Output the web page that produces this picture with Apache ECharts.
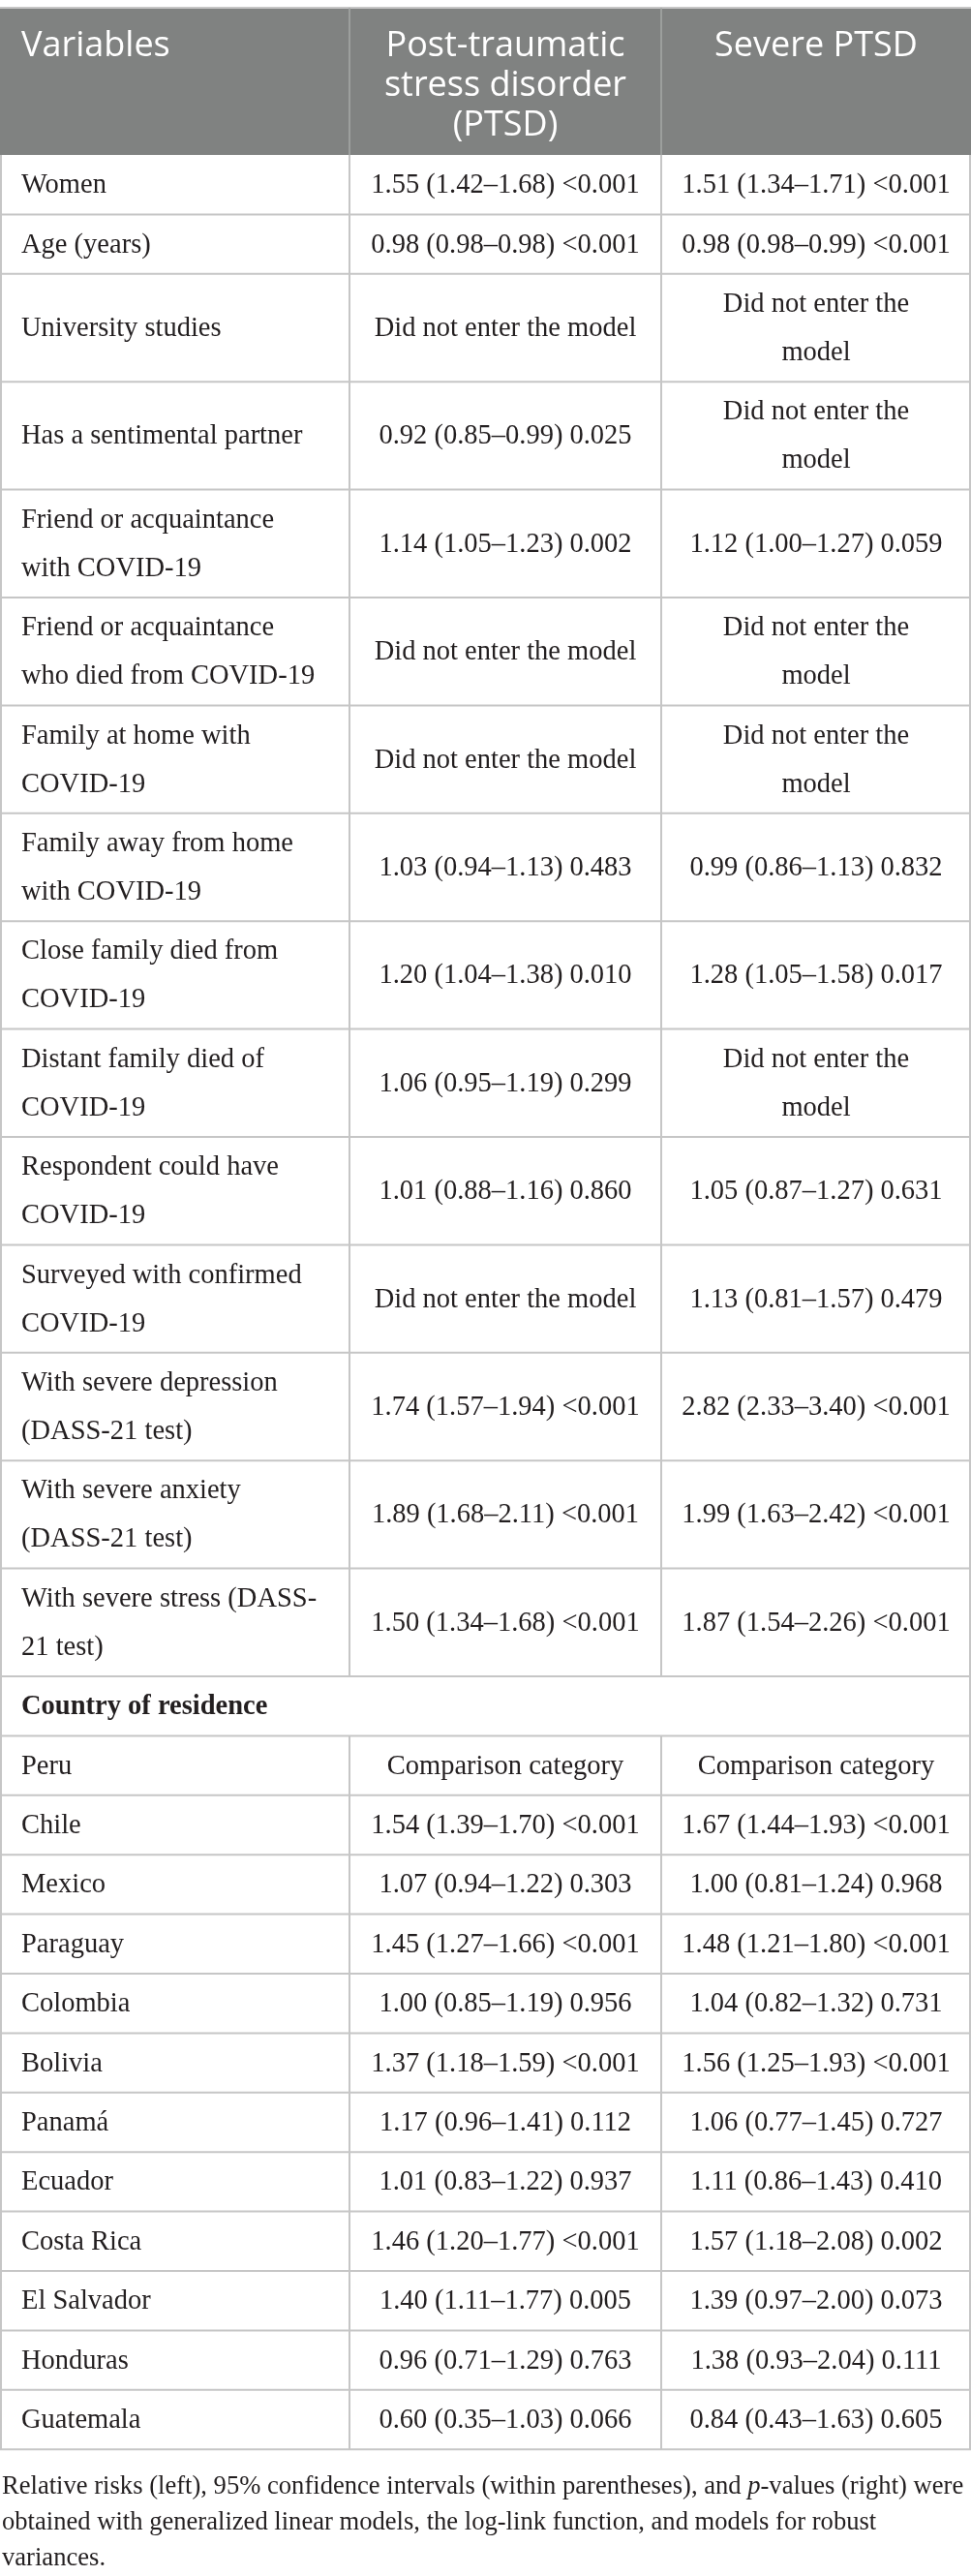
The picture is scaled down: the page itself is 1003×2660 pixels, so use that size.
<!DOCTYPE html>
<html>
<head>
<meta charset="utf-8">
<script src="https://cdn.jsdelivr.net/npm/echarts@6/dist/echarts.min.js"></script>
<style>
html, body { margin: 0; padding: 0; background: #fff; }
#main { width: 1003px; height: 2660px; }
</style>
</head>
<body>
<div id="main"></div>
<script>
// table content
const headers = ['Variables', 'Post-traumatic\nstress disorder\n(PTSD)', 'Severe PTSD'];

const predictors = [
    'Women',
    'Age (years)',
    'University studies',
    'Has a sentimental partner',
    'Friend or acquaintance\nwith COVID-19',
    'Friend or acquaintance\nwho died from COVID-19',
    'Family at home with\nCOVID-19',
    'Family away from home\nwith COVID-19',
    'Close family died from\nCOVID-19',
    'Distant family died of\nCOVID-19',
    'Respondent could have\nCOVID-19',
    'Surveyed with confirmed\nCOVID-19',
    'With severe depression\n(DASS-21 test)',
    'With severe anxiety\n(DASS-21 test)',
    'With severe stress (DASS-\n21 test)'
];
const predictorPtsd = [
    '1.55 (1.42–1.68) <0.001',
    '0.98 (0.98–0.98) <0.001',
    'Did not enter the model',
    '0.92 (0.85–0.99) 0.025',
    '1.14 (1.05–1.23) 0.002',
    'Did not enter the model',
    'Did not enter the model',
    '1.03 (0.94–1.13) 0.483',
    '1.20 (1.04–1.38) 0.010',
    '1.06 (0.95–1.19) 0.299',
    '1.01 (0.88–1.16) 0.860',
    'Did not enter the model',
    '1.74 (1.57–1.94) <0.001',
    '1.89 (1.68–2.11) <0.001',
    '1.50 (1.34–1.68) <0.001'
];
const predictorSevere = [
    '1.51 (1.34–1.71) <0.001',
    '0.98 (0.98–0.99) <0.001',
    'Did not enter the\nmodel',
    'Did not enter the\nmodel',
    '1.12 (1.00–1.27) 0.059',
    'Did not enter the\nmodel',
    'Did not enter the\nmodel',
    '0.99 (0.86–1.13) 0.832',
    '1.28 (1.05–1.58) 0.017',
    'Did not enter the\nmodel',
    '1.05 (0.87–1.27) 0.631',
    '1.13 (0.81–1.57) 0.479',
    '2.82 (2.33–3.40) <0.001',
    '1.99 (1.63–2.42) <0.001',
    '1.87 (1.54–2.26) <0.001'
];

const sectionTitle = 'Country of residence';

const countries = ['Peru', 'Chile', 'Mexico', 'Paraguay', 'Colombia', 'Bolivia', 'Panamá',
    'Ecuador', 'Costa Rica', 'El Salvador', 'Honduras', 'Guatemala'];
const countryPtsd = [
    'Comparison category',
    '1.54 (1.39–1.70) <0.001',
    '1.07 (0.94–1.22) 0.303',
    '1.45 (1.27–1.66) <0.001',
    '1.00 (0.85–1.19) 0.956',
    '1.37 (1.18–1.59) <0.001',
    '1.17 (0.96–1.41) 0.112',
    '1.01 (0.83–1.22) 0.937',
    '1.46 (1.20–1.77) <0.001',
    '1.40 (1.11–1.77) 0.005',
    '0.96 (0.71–1.29) 0.763',
    '0.60 (0.35–1.03) 0.066'
];
const countrySevere = [
    'Comparison category',
    '1.67 (1.44–1.93) <0.001',
    '1.00 (0.81–1.24) 0.968',
    '1.48 (1.21–1.80) <0.001',
    '1.04 (0.82–1.32) 0.731',
    '1.56 (1.25–1.93) <0.001',
    '1.06 (0.77–1.45) 0.727',
    '1.11 (0.86–1.43) 0.410',
    '1.57 (1.18–2.08) 0.002',
    '1.39 (0.97–2.00) 0.073',
    '1.38 (0.93–2.04) 0.111',
    '0.84 (0.43–1.63) 0.605'
];

const footnoteLines = [
    ['Relative risks (left), 95% confidence intervals (within parentheses), and ', 'p', '-values (right) were'],
    ['obtained with generalized linear models, the log-link function, and models for robust'],
    ['variances.']
];

// layout / style
const colEdges = [0, 361, 683, 1003];
const headH = 152;
const lineH = 50;
const cellPad = 11.4;
const tableTop = 8;
const serif = '"Liberation Serif", "DejaVu Serif", serif';
const sans = '"Open Sans", "Noto Sans", sans-serif';
const bodySize = 28.5;
const footSize = 26.6;
const textColor = '#231f20';
const gridColor = '#c6c6c6';
const headFill = '#808281';

// build rows with cumulative extents
let rows = [];
rows.push({ kind: 'head', cells: headers });
predictors.forEach((p, i) => rows.push({ kind: 'body', cells: [p, predictorPtsd[i], predictorSevere[i]] }));
rows.push({ kind: 'section', cells: [sectionTitle] });
countries.forEach((c, i) => rows.push({ kind: 'body', cells: [c, countryPtsd[i], countrySevere[i]] }));

let acc = 0;
let rowData = rows.map((r) => {
    let h;
    if (r.kind === 'head') {
        h = headH;
    } else {
        let lines = Math.max.apply(null, r.cells.map(t => t.split('\n').length));
        h = cellPad + lineH * lines;
    }
    let item = [acc, acc + h];
    acc += h;
    return item;
});
const tableH = acc;

function renderRow(params, api) {
    let r = rows[params.dataIndex];
    let y0 = api.value(0), y1 = api.value(1);
    let p0 = api.coord([colEdges[0], y0]);
    let p1 = api.coord([colEdges[3], y1]);
    let top = p0[1], bottom = p1[1], left = p0[0], right = p1[0];
    let mid = (top + bottom) / 2;
    let kids = [];

    if (r.kind === 'head') {
        kids.push({ type: 'rect', shape: { x: left, y: top, width: right - left, height: bottom - top }, style: { fill: headFill } });
        kids.push({ type: 'line', shape: { x1: left, y1: top, x2: right, y2: top }, style: { stroke: gridColor, lineWidth: 2 } });
        [1, 2].forEach(c => {
            let x = api.coord([colEdges[c], y0])[0];
            kids.push({ type: 'line', shape: { x1: x, y1: top, x2: x, y2: bottom }, style: { stroke: '#a6a8a7', lineWidth: 1.5 } });
        });
        r.cells.forEach((t, c) => {
            let xa = api.coord([colEdges[c], y0])[0];
            let xb = api.coord([colEdges[c + 1], y0])[0];
            let x = c === 0 ? xa + 22 : (xa + xb) / 2;
            kids.push({
                type: 'text', x: x, y: top + 19,
                style: {
                    text: t, fill: '#ffffff', font: '36px ' + sans, lineHeight: 41,
                    align: c === 0 ? 'left' : 'center', textAlign: c === 0 ? 'left' : 'center',
                    verticalAlign: 'top', textVerticalAlign: 'top'
                }
            });
        });
        return { type: 'group', children: kids };
    }

    kids.push({ type: 'line', shape: { x1: left, y1: bottom, x2: right, y2: bottom }, style: { stroke: gridColor, lineWidth: 2 } });
    let vlines = r.kind === 'section' ? [0, 3] : [0, 1, 2, 3];
    vlines.forEach(c => {
        let x = api.coord([colEdges[c], y0])[0];
        if (c === 0) x += 1;
        if (c === 3) x -= 1;
        kids.push({ type: 'line', shape: { x1: x, y1: top, x2: x, y2: bottom }, style: { stroke: gridColor, lineWidth: 2 } });
    });

    r.cells.forEach((t, c) => {
        let xa = api.coord([colEdges[c], y0])[0];
        let xb = api.coord([colEdges[c + 1], y0])[0];
        let x = c === 0 ? xa + 22 : (xa + xb) / 2;
        let weight = r.kind === 'section' ? 'bold ' : '';
        kids.push({
            type: 'text', x: x, y: mid + 1,
            style: {
                text: t, fill: textColor, font: weight + bodySize + 'px ' + serif, lineHeight: lineH,
                align: c === 0 ? 'left' : 'center', textAlign: c === 0 ? 'left' : 'center',
                verticalAlign: 'middle', textVerticalAlign: 'middle'
            }
        });
    });
    return { type: 'group', children: kids };
}

// footnote as rich text
const footText = footnoteLines.map(parts =>
    parts.map(s => (s === 'p' ? '{i|' + s + '}' : '{n|' + s + '}')).join('')
).join('\n');

let chart = echarts.init(document.getElementById('main'));
chart.setOption({
    animation: false,
    backgroundColor: '#ffffff',
    title: {
        text: footText,
        left: 0,
        top: tableTop + tableH + 20,
        padding: [0, 0, 0, 2],
        textStyle: {
            fontFamily: serif, fontSize: footSize, fontWeight: 'normal', color: textColor, lineHeight: 37,
            rich: {
                n: { fontFamily: serif, fontSize: footSize, color: textColor, lineHeight: 37 },
                i: { fontFamily: serif, fontSize: footSize, color: textColor, lineHeight: 37, fontStyle: 'italic' }
            }
        }
    },
    grid: { left: 0, top: tableTop, width: 1003, height: tableH },
    xAxis: { type: 'value', min: 0, max: colEdges[3], show: false },
    yAxis: { type: 'value', min: 0, max: tableH, inverse: true, show: false },
    series: [{
        type: 'custom',
        renderItem: renderRow,
        data: rowData,
        encode: { x: -1, y: [0, 1] },
        clip: false
    }]
});
</script>
</body>
</html>
